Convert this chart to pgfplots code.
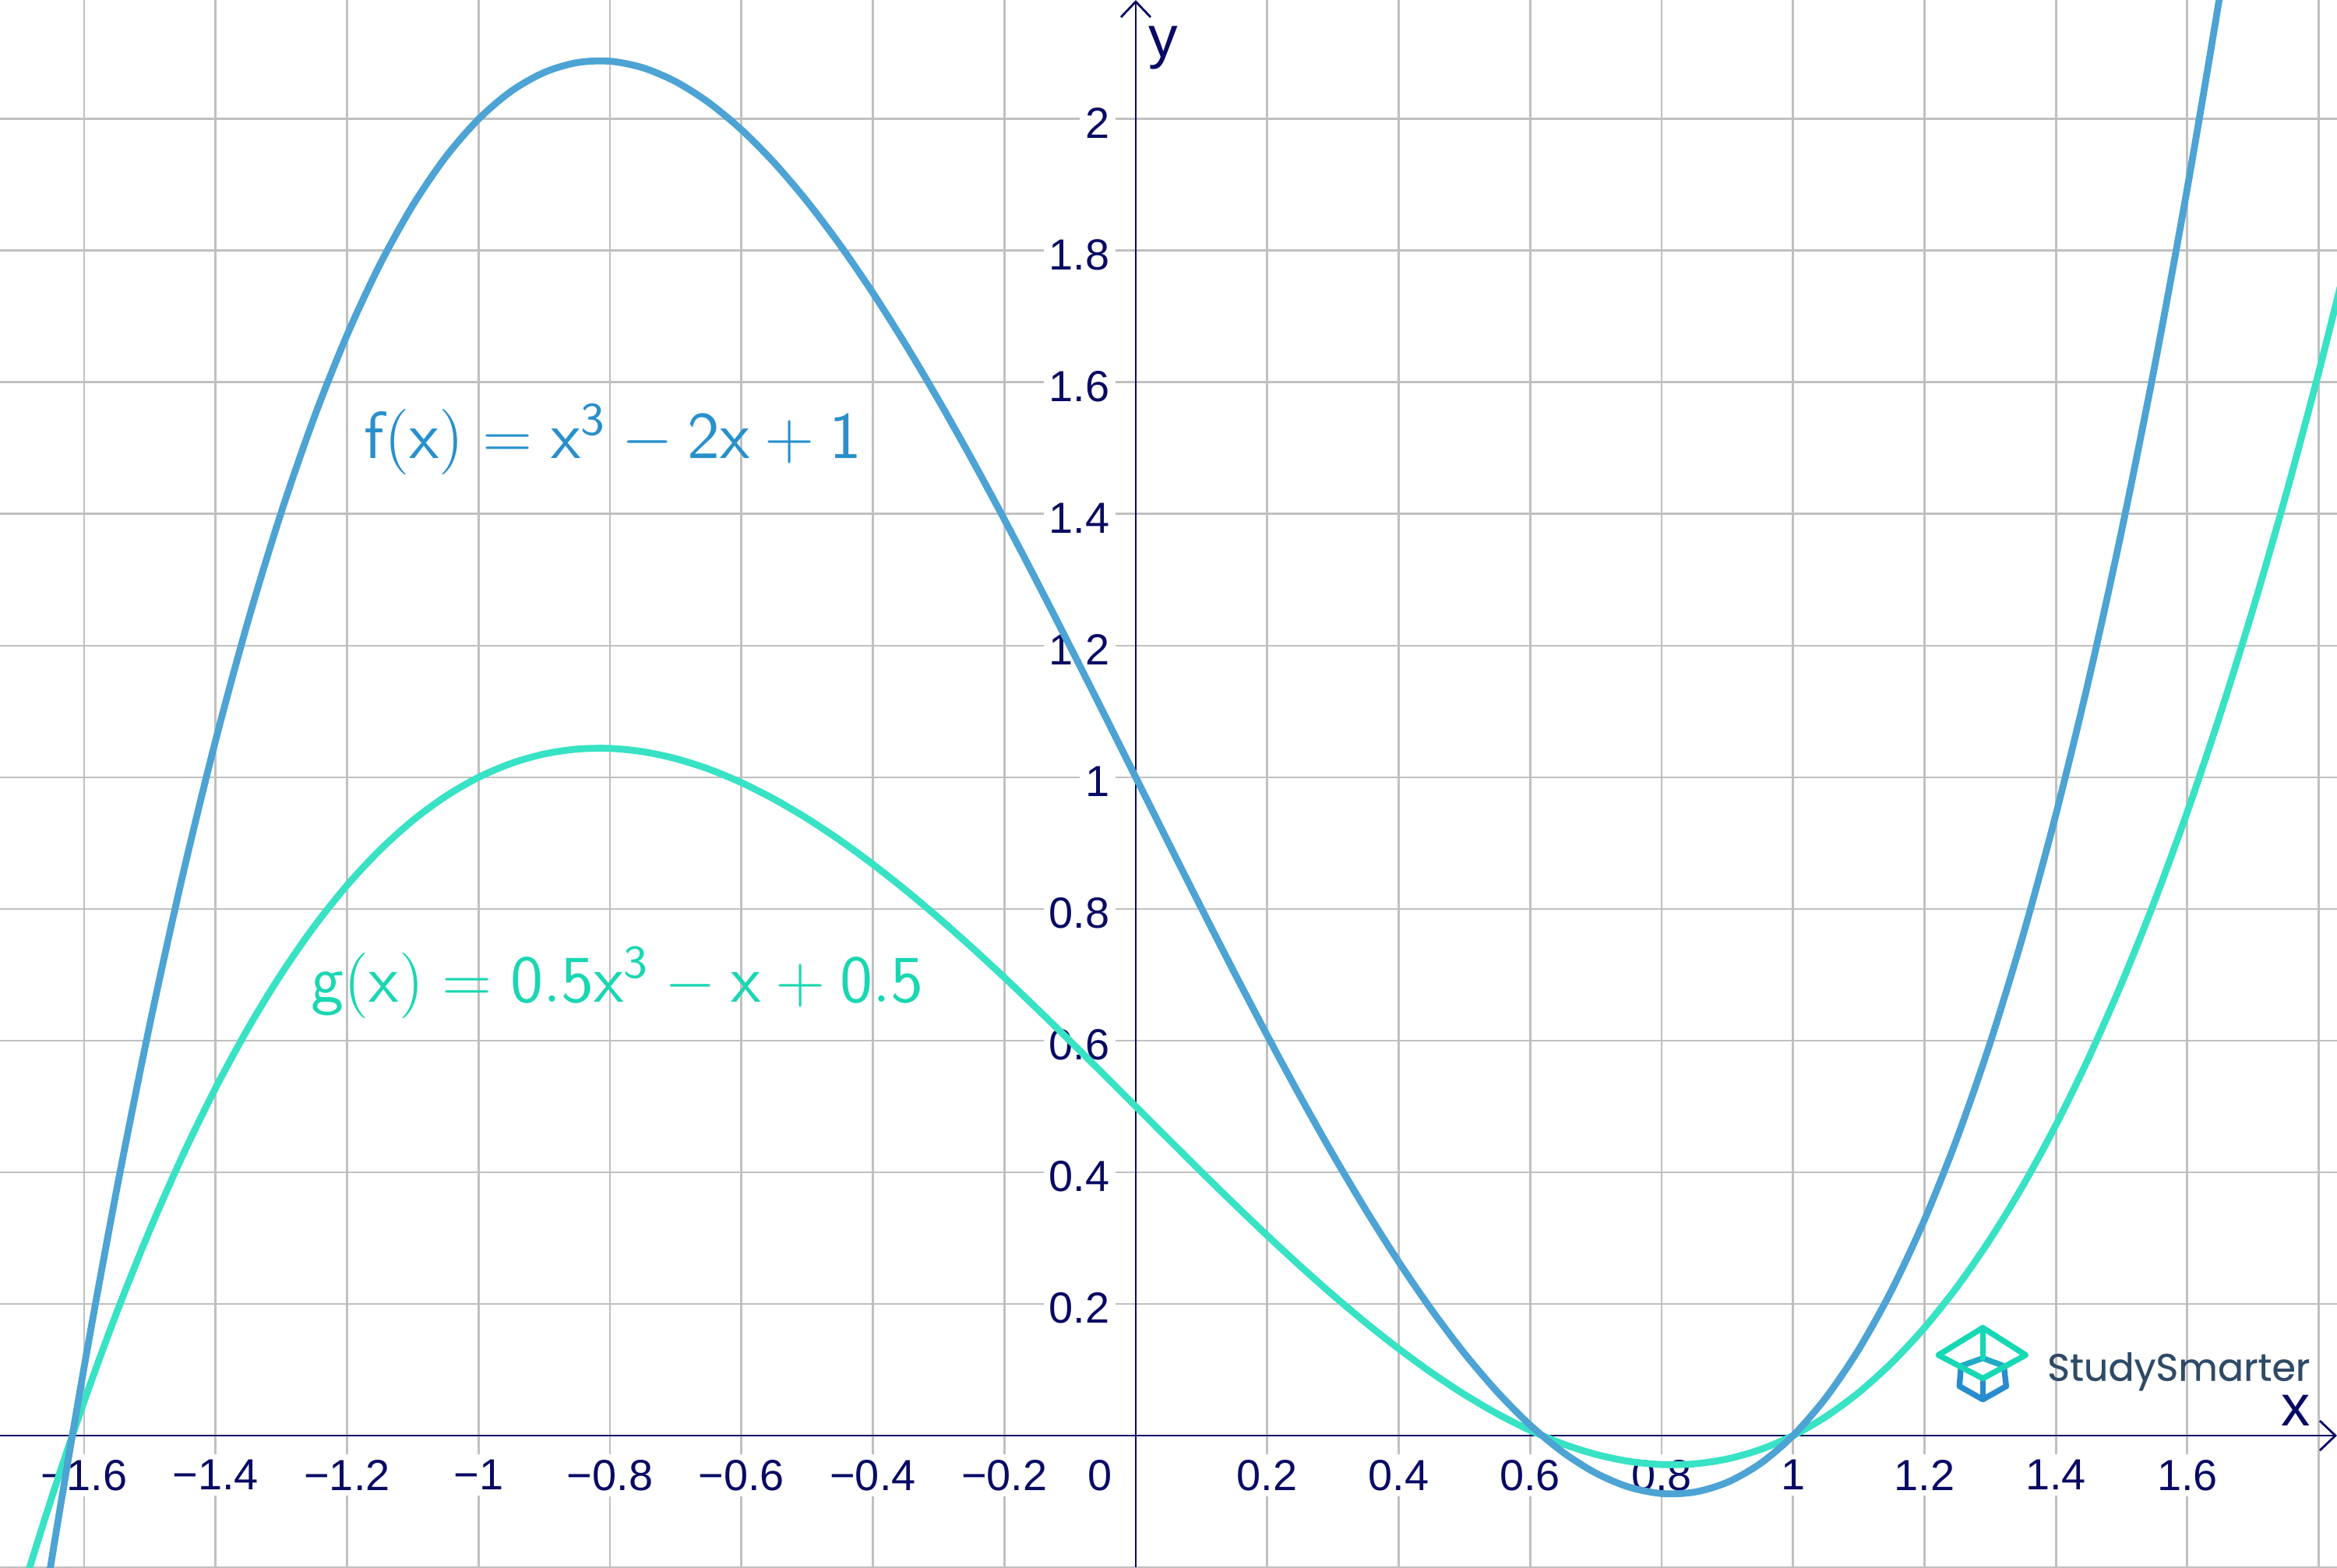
\documentclass[border=0pt]{standalone}
\usepackage{fontspec}
\usepackage{pgfplots}
\pgfplotsset{compat=1.18}
\usetikzlibrary{arrows.meta}
\newfontfamily\ticfont{Liberation Sans}
\newfontfamily\logofont{Poppins}[FakeBold=0.4]
\definecolor{axiscol}{RGB}{8,10,100}
\definecolor{gridcol}{RGB}{192,192,192}
\definecolor{fcol}{RGB}{76,163,212}
\definecolor{gcol}{RGB}{56,226,196}
\definecolor{flab}{RGB}{40,144,204}
\definecolor{glab}{RGB}{26,214,178}
\definecolor{logotext}{RGB}{47,74,102}
\definecolor{logoteal}{RGB}{22,216,180}
\definecolor{logoblue}{RGB}{40,140,208}
\begin{document}
\begin{tikzpicture}
\begin{axis}[
  at={(0,0)}, anchor=south west,
  width=15cm, height=10.06cm, scale only axis,
  xmin=-1.728, xmax=1.8276, ymin=-0.2, ymax=2.181,
  set layers,
  axis lines=middle,
  axis line style={draw=axiscol, line width=0.4pt, -{Straight Barb[length=0.1cm,width=0.19cm]}},
  xtick={-1.6,-1.4,-1.2,-1,-0.8,-0.6,-0.4,-0.2,0.2,0.4,0.6,0.8,1,1.2,1.4,1.6},
  xticklabels={−1.6,−1.4,−1.2,−1,−0.8,−0.6,−0.4,−0.2,0.2,0.4,0.6,0.8,1,1.2,1.4,1.6},
  ytick={0.2,0.4,0.6,0.8,1,1.2,1.4,1.6,1.8,2},
  yticklabels={0.2,0.4,0.6,0.8,1,1.2,1.4,1.6,1.8,2},
  extra x ticks={1.8}, extra x tick labels={},
  extra y ticks={-0.2}, extra y tick labels={},
  extra x tick style={grid=major, xticklabel style={fill=none}},
  extra y tick style={grid=major, yticklabel style={fill=none}},
  grid=major,
  major grid style={draw=gridcol, line width=0.42pt},
  major tick length=0pt,
  tick label style={font=\ticfont\fontsize{7.95}{9}\selectfont, text=axiscol, fill=white, inner sep=1pt},
  xticklabel style={anchor=north, yshift=-0.115cm},
  yticklabel style={anchor=east, xshift=-0.125cm, yshift=-0.025cm},
  clip=true,
]
\addplot[gcol, line width=1.25pt, smooth] coordinates {
(-1.75,-0.4296875) (-1.70,-0.2565) (-1.65,-0.0960625) (-1.60,0.052) (-1.55,0.1880625)
(-1.50,0.3125) (-1.45,0.4256875) (-1.40,0.528) (-1.35,0.6198125) (-1.30,0.7015)
(-1.25,0.7734375) (-1.20,0.836) (-1.15,0.8895625) (-1.10,0.9345) (-1.05,0.9711875)
(-1.00,1) (-0.95,1.0213125) (-0.90,1.0355) (-0.85,1.0429375) (-0.80,1.044)
(-0.75,1.0390625) (-0.70,1.0285) (-0.65,1.0126875) (-0.60,0.992) (-0.55,0.9668125)
(-0.50,0.9375) (-0.45,0.9044375) (-0.40,0.868) (-0.35,0.8285625) (-0.30,0.7865)
(-0.25,0.7421875) (-0.20,0.696) (-0.15,0.6483125) (-0.10,0.5995) (-0.05,0.5499375)
(0,0.5) (0.05,0.4500625) (0.10,0.4005) (0.15,0.3516875) (0.20,0.304)
(0.25,0.2578125) (0.30,0.2135) (0.35,0.1714375) (0.40,0.132) (0.45,0.0955625)
(0.50,0.0625) (0.55,0.0331875) (0.60,0.008) (0.65,-0.0126875) (0.70,-0.0285)
(0.75,-0.0390625) (0.80,-0.044) (0.85,-0.0429375) (0.90,-0.0355) (0.95,-0.0213125)
(1.00,0) (1.05,0.0288125) (1.10,0.0655) (1.15,0.1104375) (1.20,0.164)
(1.25,0.2265625) (1.30,0.2985) (1.35,0.3801875) (1.40,0.472) (1.45,0.5743125)
(1.50,0.6875) (1.55,0.8119375) (1.60,0.948) (1.65,1.0960625) (1.70,1.2565)
(1.75,1.4296875) (1.80,1.616) (1.85,1.8158125)
};
\addplot[fcol, line width=1.25pt, smooth] coordinates {
(-1.70,-0.513) (-1.65,-0.192125) (-1.60,0.104) (-1.55,0.376125) (-1.50,0.625)
(-1.45,0.851375) (-1.40,1.056) (-1.35,1.239625) (-1.30,1.403) (-1.25,1.546875)
(-1.20,1.672) (-1.15,1.779125) (-1.10,1.869) (-1.05,1.942375) (-1.00,2)
(-0.95,2.042625) (-0.90,2.071) (-0.85,2.085875) (-0.80,2.088) (-0.75,2.078125)
(-0.70,2.057) (-0.65,2.025375) (-0.60,1.984) (-0.55,1.933625) (-0.50,1.875)
(-0.45,1.808875) (-0.40,1.736) (-0.35,1.657125) (-0.30,1.573) (-0.25,1.484375)
(-0.20,1.392) (-0.15,1.296625) (-0.10,1.199) (-0.05,1.099875) (0,1)
(0.05,0.900125) (0.10,0.801) (0.15,0.703375) (0.20,0.608) (0.25,0.515625)
(0.30,0.427) (0.35,0.342875) (0.40,0.264) (0.45,0.191125) (0.50,0.125)
(0.55,0.066375) (0.60,0.016) (0.65,-0.025375) (0.70,-0.057) (0.75,-0.078125)
(0.80,-0.088) (0.85,-0.085875) (0.90,-0.071) (0.95,-0.042625) (1.00,0)
(1.05,0.057625) (1.10,0.131) (1.15,0.220875) (1.20,0.328) (1.25,0.453125)
(1.30,0.597) (1.35,0.760375) (1.40,0.944) (1.45,1.148625) (1.50,1.375)
(1.55,1.623875) (1.60,1.896) (1.65,2.192125) (1.70,2.513)
};
\node[anchor=north, inner sep=1pt, fill=white, text=axiscol, font=\ticfont\fontsize{7.95}{9}\selectfont, yshift=-0.115cm] at (axis cs:-0.0545,0) {0};
\node[anchor=north west, inner sep=0pt, text=axiscol, font=\ticfont\fontsize{10.7}{12}\selectfont] at (axis cs:0.0178,2.143) {y};
\node[anchor=base east, inner sep=0pt, text=axiscol, font=\ticfont\fontsize{10.6}{12}\selectfont] at (axis cs:1.7886,0.0154) {x};
\node[anchor=base west, inner sep=0pt, text=flab, font=\fontsize{12.15}{14}\selectfont] at (axis cs:-1.175,1.484) {$\mathsf{f(x)=x^{3}-2x+1}$};
\node[anchor=base west, inner sep=0pt, text=glab, font=\fontsize{12.2}{14}\selectfont] at (axis cs:-1.256,0.659) {$\mathsf{g(x)=0.5x^{3}-x+0.5}$};
\end{axis}
\begin{scope}[x=0.005cm, y=-0.005cm, yshift=10.06cm, line width=1.05pt, line cap=round, line join=round]
  \draw[logoblue] (2515,1752) -- (2513,1778) -- (2543,1795) -- (2573,1778) -- (2570,1752);
  \draw[logoblue] (2543,1768) -- (2543,1790);
  \draw[logoblue!60!logoteal] (2515,1752) -- (2543,1742) -- (2570,1752);
  \draw[logoteal] (2486,1738) -- (2543,1703) -- (2598,1738) -- (2543,1768) -- cycle;
  \draw[logoteal] (2543,1703) -- (2543,1742);
  \node[anchor=base west, inner sep=0pt, text=logotext, font=\logofont\fontsize{7.0}{9}\selectfont] at (2622,1771) {StudySmarter};
\end{scope}
\pgfresetboundingbox
\useasboundingbox (0,0) rectangle (15cm,10.06cm);
\end{tikzpicture}
\end{document}
